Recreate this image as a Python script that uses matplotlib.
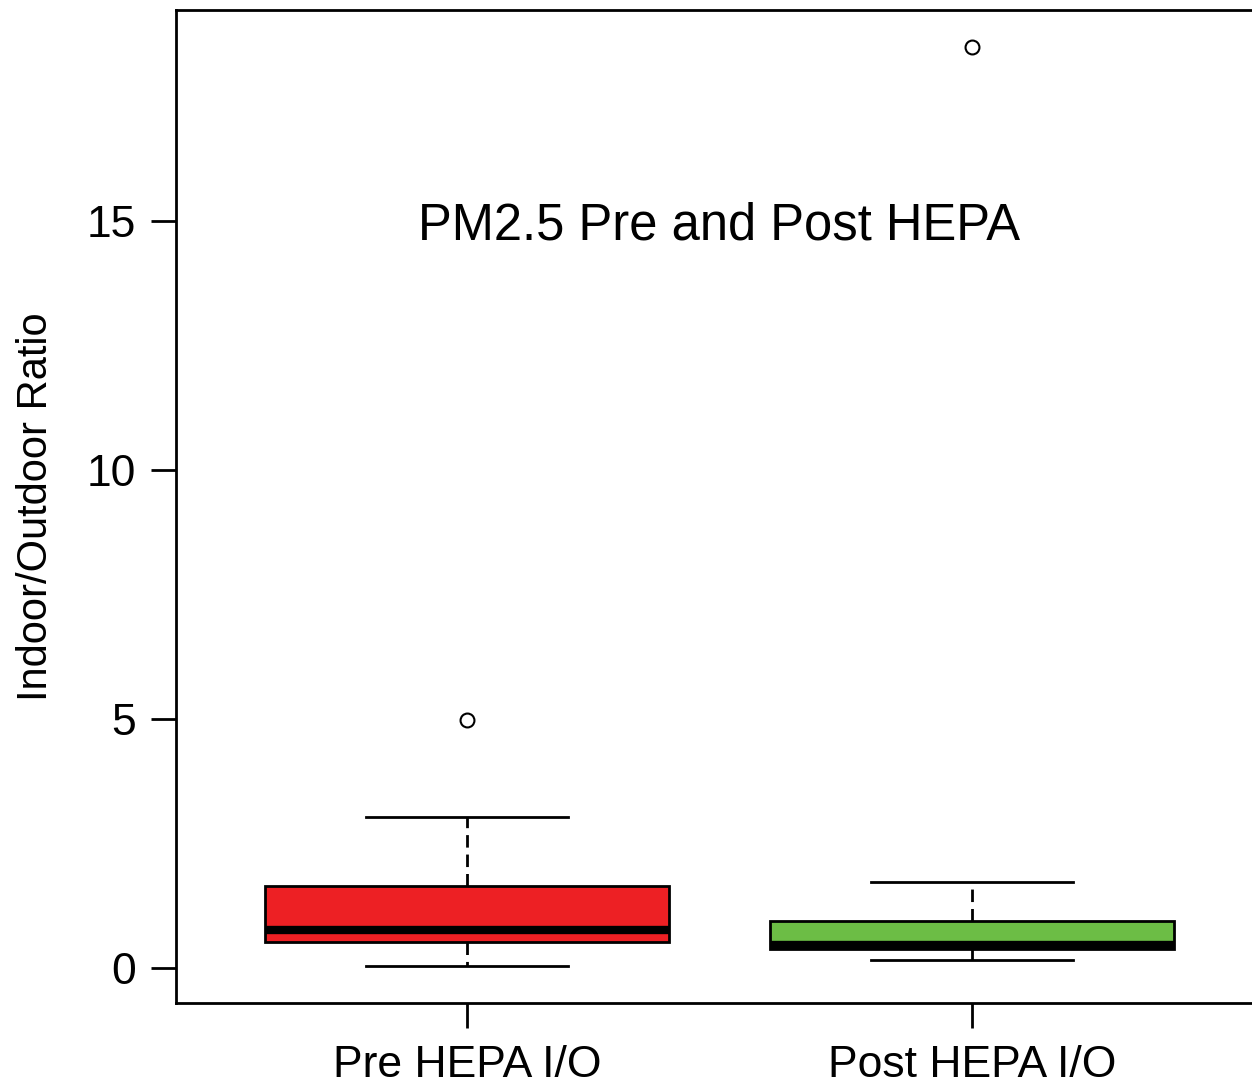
import matplotlib.pyplot as plt

plt.rcParams['font.family'] = ['Liberation Sans', 'DejaVu Sans']

# box statistics
labels = ['Pre HEPA I/O', 'Post HEPA I/O']
whislo = [0.04, 0.16]
q1 = [0.52, 0.38]
med = [0.76, 0.46]
q3 = [1.65, 0.94]
whishi = [3.03, 1.73]
outliers = [[4.98], [18.5]]
colors = ['#ed2024', '#6cbd45']

stats = []
for i in range(len(labels)):
    stats.append({'whislo': whislo[i], 'q1': q1[i], 'med': med[i], 'q3': q3[i],
                  'whishi': whishi[i], 'fliers': outliers[i], 'label': labels[i]})

fig = plt.figure(figsize=(12.52, 10.86), dpi=100)
ax = fig.add_axes([0.1406, 0.0764, 0.8682, 0.9144])

bp = ax.bxp(stats, positions=[1, 2], widths=0.8, patch_artist=True,
            boxprops=dict(linewidth=2, edgecolor='black'),
            medianprops=dict(color='black', linewidth=6, solid_capstyle='butt'),
            whiskerprops=dict(linestyle=(0, (4.5, 2.5)), linewidth=2),
            capprops=dict(linewidth=2),
            flierprops=dict(marker='o', markerfacecolor='none', markeredgecolor='black',
                            markersize=10, markeredgewidth=1.5),
            capwidths=0.4)
for patch, c in zip(bp['boxes'], colors):
    patch.set_facecolor(c)

ax.set_xlim(0.424, 2.576)
ax.set_ylim(-0.70, 19.24)
ax.set_yticks([0, 5, 10, 15])
ax.set_xticks([1, 2])
ax.set_xticklabels(labels)
ax.tick_params(axis='both', direction='out', length=18, width=2, labelsize=32)
ax.tick_params(axis='x', pad=12)
ax.tick_params(axis='y', pad=11)
for s in ax.spines.values():
    s.set_linewidth(2)

ax.set_ylabel('Indoor/Outdoor Ratio', fontsize=30, labelpad=22)
ax.text(1.5, 14.9, 'PM2.5 Pre and Post HEPA', ha='center', va='center', fontsize=36.5)

fig.savefig('out.png', dpi=100)
